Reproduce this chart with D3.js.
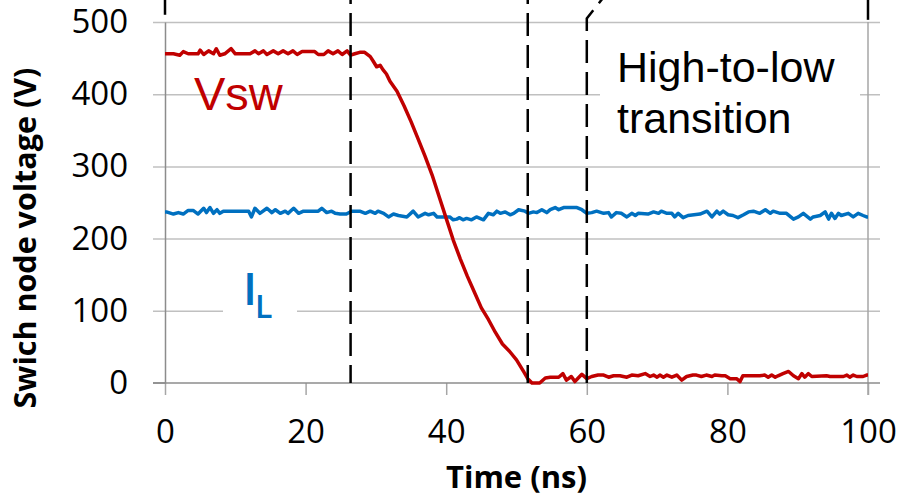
<!DOCTYPE html>
<html>
<head>
<meta charset="utf-8">
<script src="https://cdn.jsdelivr.net/npm/d3@7"></script>
<style>
  body { margin: 0; background: #fff; }
  svg { display: block; }
</style>
</head>
<body>
<div id="vis"></div>
<script>
// tick labels
var xTicks = [0, 20, 40, 60, 80, 100];
var yTicks = [0, 100, 200, 300, 400, 500];

// switch node voltage, [time ns, volts]
var vswPoints = [
  [0,456],[1.2,456],[2.1,454],[2.6,459],[3.3,456],[4.7,456],[5.0,461],[5.5,455],[6.2,460],[6.9,456],
  [7.3,463],[7.8,454],[8.5,456],[9.4,463],[10.0,456],[12.1,456],[12.8,460],[13.3,456],[14.0,460],[14.5,455],
  [15.4,460],[16.1,456],[16.8,460],[17.5,456],[18.2,460],[18.8,455],[19.5,459],[21.3,459],[21.8,455],[22.6,455],
  [23.2,460],[23.9,456],[24.6,460],[25.2,455],[25.9,460],[26.4,454],[27.0,456],[27.7,458],[28.4,458],[29.2,452],
  [29.6,446],[30.1,438],[30.6,440],[31.0,434],[31.5,428],[32,418],[33,404],[34,384],[35,362],[36,338],
  [37,314],[38,288],[39,258],[40,228],[41,198],[42,172],[43,148],[44,126],[45,104],[46,88],
  [47,70],[48,54],[49,44],[50,32],[51,16],[51.6,6],[52.2,0],[53.3,0],[54.1,7],[54.8,8],
  [56.0,8],[56.6,13],[57.1,4],[57.8,9],[58.3,2],[59.3,12],[60.0,6],[60.7,9],[61.6,11],[62.4,11],
  [63.1,8],[63.8,10],[64.7,10],[65.7,8],[66.4,11],[67.3,10],[68.3,13],[69.0,9],[69.5,11],[70.0,8],
  [70.4,11],[70.9,8],[71.4,11],[72.1,8],[72.8,11],[73.5,4],[74.2,9],[75.1,11],[75.6,11],[76.3,9],
  [77.0,11],[77.8,9],[78.2,11],[79.2,10],[79.7,10],[80.4,6],[81.3,6],[81.8,2],[82.2,10],[84.6,10],
  [85.3,11],[85.8,8],[86.3,11],[86.8,8],[87.2,10],[87.9,13],[88.7,16],[89.4,10],[90.1,6],[90.6,13],
  [91.0,8],[91.5,13],[92.0,9],[94.1,10],[94.6,9],[96.5,9],[97.0,11],[97.4,8],[97.9,11],[98.4,9],
  [99.3,9],[99.8,11],[100,11]
];

// inductor current trace, [time ns, plotted value]
var ilPoints = [
  [0,237],[0.2,237],[1.2,234],[1.9,236],[2.6,234],[3.3,239],[4.0,239],[4.7,234],[5.5,242],[5.9,236],
  [6.4,243],[6.9,235],[7.4,240],[7.8,235],[8.3,238],[11.9,238],[12.3,230],[12.8,242],[13.5,235],[14.5,242],
  [15.2,236],[15.7,240],[16.4,235],[17.1,238],[17.5,235],[18.3,242],[19.0,235],[19.7,238],[21.8,238],[22.3,242],
  [23.0,236],[23.7,238],[24.2,235],[24.9,234],[25.8,234],[26.6,238],[27.7,238],[28.5,235],[29.2,238],[29.9,235],
  [30.3,238],[31.1,235],[31.8,230],[32.5,234],[33.2,232],[34.4,230],[35.3,238],[36.0,230],[37.0,235],[37.5,233],
  [38.2,235],[38.7,230],[40.5,230],[41.0,226],[41.5,227],[41.9,229],[42.4,226],[42.9,228],[43.6,226],[44.3,230],
  [44.8,228],[45.3,226],[46.0,235],[46.7,233],[47.2,238],[47.7,235],[48.4,237],[49.1,233],[49.6,235],[50.3,240],
  [51.2,238],[51.7,235],[52.4,237],[52.9,236],[53.6,240],[54.3,236],[54.8,240],[55.5,243],[56.0,240],[56.7,243],
  [58.6,243],[59.3,240],[60.0,235],[60.7,236],[61.4,238],[62.4,235],[63.1,236],[63.5,230],[64.2,236],[64.9,235],
  [65.7,230],[66.4,235],[66.9,232],[67.3,235],[68.7,234],[69.5,237],[70.2,235],[70.6,238],[71.4,235],[72.1,235],
  [72.5,230],[73.0,235],[73.7,229],[74.4,232],[76.1,234],[77.1,238],[77.8,230],[78.5,238],[78.9,234],[79.4,238],
  [80.1,233],[80.8,232],[81.5,229],[82.3,233],[83.0,237],[83.7,238],[84.6,235],[85.4,240],[86.1,235],[86.5,238],
  [87.5,235],[88.4,235],[89.4,227],[90.1,230],[90.8,235],[91.8,227],[92.2,230],[93.2,232],[93.9,237],[94.4,227],
  [94.8,235],[95.3,228],[95.8,235],[96.2,232],[97.2,235],[97.9,230],[98.6,235],[99.3,232],[99.8,230],[100,230]
];

// dashed time markers (ns)
var markerTimes = [26.4, 51.6];
var transitionMarker = [[60,0],[60,505],[62.2,532]];
var edgeMarkers = [[[0,510],[0,532]], [[100,503],[100,532]]];

var width = 898,
    height = 499;

var svg = d3.select("#vis").append("svg")
    .attr("width", width)
    .attr("height", height);

var x = d3.scaleLinear().domain([0, 100]).range([165, 868]);
var y = d3.scaleLinear().domain([0, 500]).range([383, 22]);

var tickFont = "'Open Sans', sans-serif";

// gridlines
var grid = svg.append("g")
    .attr("transform", "translate(153,0)")
    .call(d3.axisRight(y).tickValues(yTicks.slice(1)).tickSize(727).tickFormat(""));
grid.select(".domain").remove();
grid.selectAll("line").attr("stroke", "#c0c0c0").attr("stroke-width", 1.5);

// right border
svg.append("line")
    .attr("x1", x(100)).attr("x2", x(100))
    .attr("y1", y(500)).attr("y2", y(0) + 12)
    .attr("stroke", "#a6a6a6").attr("stroke-width", 1.5);

// x axis
var xAxis = svg.append("g")
    .attr("transform", "translate(0," + y(0) + ")")
    .call(d3.axisBottom(x).tickValues(xTicks).tickSize(12).tickPadding(25).tickSizeOuter(0));
xAxis.select(".domain").remove();
xAxis.selectAll("line").attr("stroke", "#a6a6a6").attr("stroke-width", 1.5);
xAxis.selectAll("text")
    .style("font-family", tickFont)
    .style("font-size", "33px")
    .attr("fill", "#000");

svg.append("line")
    .attr("x1", 153).attr("x2", 880)
    .attr("y1", y(0)).attr("y2", y(0))
    .attr("stroke", "#8c8c8c").attr("stroke-width", 1.5);

// y axis
var yAxis = svg.append("g")
    .attr("transform", "translate(" + x(0) + ",0)")
    .call(d3.axisLeft(y).tickValues(yTicks).tickSize(0).tickPadding(37).tickSizeOuter(0));
yAxis.select(".domain").attr("stroke", "#8c8c8c").attr("stroke-width", 1.5);
yAxis.selectAll("text")
    .style("font-family", tickFont)
    .style("font-size", "33px")
    .attr("fill", "#000");

svg.append("line")
    .attr("x1", 153).attr("x2", x(0))
    .attr("y1", y(0)).attr("y2", y(0))
    .attr("stroke", "#8c8c8c").attr("stroke-width", 1.5);

// axis titles
svg.append("text")
    .attr("transform", "translate(36,238) rotate(-90)")
    .attr("text-anchor", "middle")
    .style("font-family", tickFont)
    .style("font-weight", "bold")
    .style("font-size", "30.5px")
    .text("Swich node voltage (V)");

svg.append("text")
    .attr("x", (x(0) + x(100)) / 2)
    .attr("y", 488)
    .attr("text-anchor", "middle")
    .style("font-family", tickFont)
    .style("font-weight", "bold")
    .style("font-size", "31px")
    .text("Time (ns)");

// text boxes
svg.append("rect")
    .attr("x", 223).attr("y", 262).attr("width", 74).attr("height", 64)
    .attr("fill", "#fff");
svg.append("rect")
    .attr("x", 600).attr("y", 30).attr("width", 260).attr("height", 125)
    .attr("fill", "#fff");

// series
var line = d3.line()
    .x(function(d) { return x(d[0]); })
    .y(function(d) { return y(d[1]); });

svg.append("path")
    .datum(ilPoints)
    .attr("d", line)
    .attr("fill", "none")
    .attr("stroke", "#0070c0")
    .attr("stroke-width", 3.5)
    .attr("stroke-linejoin", "round");

svg.append("path")
    .datum(vswPoints)
    .attr("d", line)
    .attr("fill", "none")
    .attr("stroke", "#c00000")
    .attr("stroke-width", 3.5)
    .attr("stroke-linejoin", "round");

// dashed markers
svg.selectAll(".marker")
    .data(markerTimes)
    .enter().append("line")
    .attr("class", "marker")
    .attr("x1", function(d) { return x(d); })
    .attr("x2", function(d) { return x(d); })
    .attr("y1", 0)
    .attr("y2", y(0))
    .attr("stroke", "#000")
    .attr("stroke-width", 2.5)
    .attr("stroke-dasharray", "23,9")
    .attr("stroke-dashoffset", 19);

svg.append("path")
    .datum(transitionMarker)
    .attr("d", line)
    .attr("fill", "none")
    .attr("stroke", "#000")
    .attr("stroke-width", 2.5)
    .attr("stroke-dasharray", "23,9");

svg.selectAll(".edge")
    .data(edgeMarkers)
    .enter().append("path")
    .attr("class", "edge")
    .attr("d", line)
    .attr("stroke", "#000")
    .attr("stroke-width", 2.5);

// labels
svg.append("text")
    .attr("x", 194).attr("y", 110)
    .style("font-family", "'Liberation Sans', Arial, sans-serif")
    .style("font-size", "47px")
    .attr("fill", "#c00000")
    .text("Vsw");

svg.append("text")
    .attr("x", 250).attr("y", 305)
    .attr("text-anchor", "middle")
    .style("font-family", tickFont)
    .style("font-weight", "600")
    .style("font-size", "46px")
    .attr("fill", "#0070c0")
    .text("I");
svg.append("text")
    .attr("x", 255).attr("y", 318)
    .style("font-family", tickFont)
    .style("font-weight", "600")
    .style("font-size", "32px")
    .attr("fill", "#0070c0")
    .text("L");

var note = svg.append("text")
    .style("font-family", "'Liberation Sans', Arial, sans-serif")
    .style("font-size", "43px")
    .attr("fill", "#000");
note.append("tspan").attr("x", 617).attr("y", 82).text("High-to-low");
note.append("tspan").attr("x", 617).attr("y", 133).text("transition");
</script>
</body>
</html>
